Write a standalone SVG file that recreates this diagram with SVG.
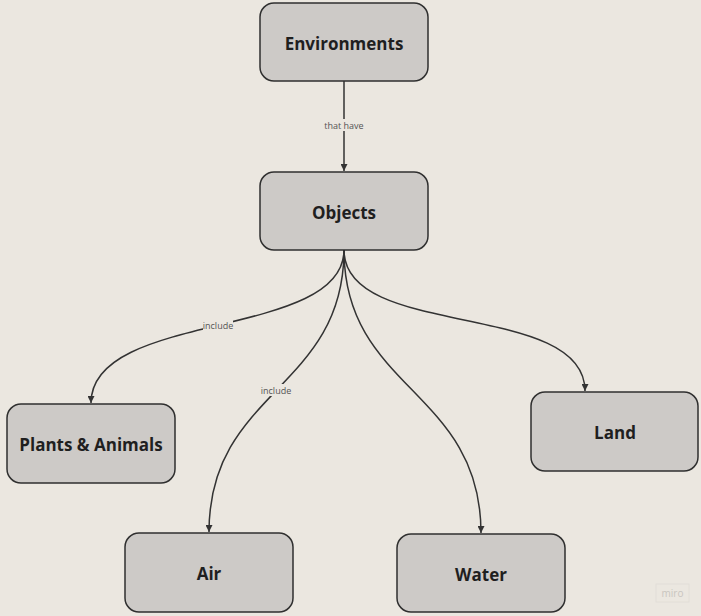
<svg xmlns="http://www.w3.org/2000/svg" width="701" height="616" viewBox="0 0 701 616">
<style>
.node rect{fill:#cdcac7;stroke:#2f2f2f;stroke-width:1.5}
.node text{font-family:"Open Sans","Noto Sans","Liberation Sans",sans-serif;font-weight:bold;font-size:17px;fill:#1f1f1f;text-anchor:middle;dominant-baseline:central}
.edge{fill:none;stroke:#333;stroke-width:1.5}
.lbl{font-family:"Open Sans","Noto Sans","Liberation Sans",sans-serif;font-size:9px;fill:#555;text-anchor:middle;dominant-baseline:central}
.lblbg{fill:#ebe7e0}
</style>
<defs>
<marker id="arr" viewBox="0 0 10 10" refX="10" refY="5" markerWidth="7" markerHeight="7" markerUnits="userSpaceOnUse" orient="auto">
<path d="M0,0 L10,5 L0,10 z" fill="#333"/>
</marker>
</defs>
<rect width="701" height="616" fill="#ebe7e0"/>
<g id="connectors">
<path class="edge" d="M344,81 L344,171" marker-end="url(#arr)"/>
<path class="edge" d="M344,250 C344,340 91,310 91,403" marker-end="url(#arr)"/>
<path class="edge" d="M344,250 C344,390 209,390 209,532" marker-end="url(#arr)"/>
<path class="edge" d="M344,250 C344,390 481,390 481,533" marker-end="url(#arr)"/>
<path class="edge" d="M344,250 C344,340 585,300 585,391" marker-end="url(#arr)"/>
<rect class="lblbg" x="325" y="119" width="38" height="12"/>
<text class="lbl" x="344" y="125">that have</text>
<rect class="lblbg" x="203" y="319" width="30" height="12"/>
<text class="lbl" x="218" y="325">include</text>
<rect class="lblbg" x="261" y="384" width="30" height="12"/>
<text class="lbl" x="276" y="390">include</text>
</g>
<g id="environments" class="node"><rect x="260" y="3" width="168" height="78" rx="14"/><text x="344" y="43">Environments</text></g>
<g id="objects" class="node"><rect x="260" y="172" width="168" height="78" rx="14"/><text x="344" y="212">Objects</text></g>
<g id="plants-animals" class="node"><rect x="7" y="404" width="168" height="79" rx="14"/><text x="91" y="444">Plants &amp; Animals</text></g>
<g id="air" class="node"><rect x="125" y="533" width="168" height="79" rx="14"/><text x="209" y="573">Air</text></g>
<g id="land" class="node"><rect x="531" y="392" width="167" height="79" rx="14"/><text x="615" y="432">Land</text></g>
<g id="water" class="node"><rect x="397" y="534" width="168" height="78" rx="14"/><text x="481" y="574">Water</text></g>
<rect x="656" y="584" width="33" height="18" fill="none" stroke="#e2ded7" stroke-width="1"/>
<text x="672.5" y="593" font-family="'Open Sans','Liberation Sans',sans-serif" font-size="10" fill="#c9c5bf" text-anchor="middle" dominant-baseline="central">miro</text>
</svg>
